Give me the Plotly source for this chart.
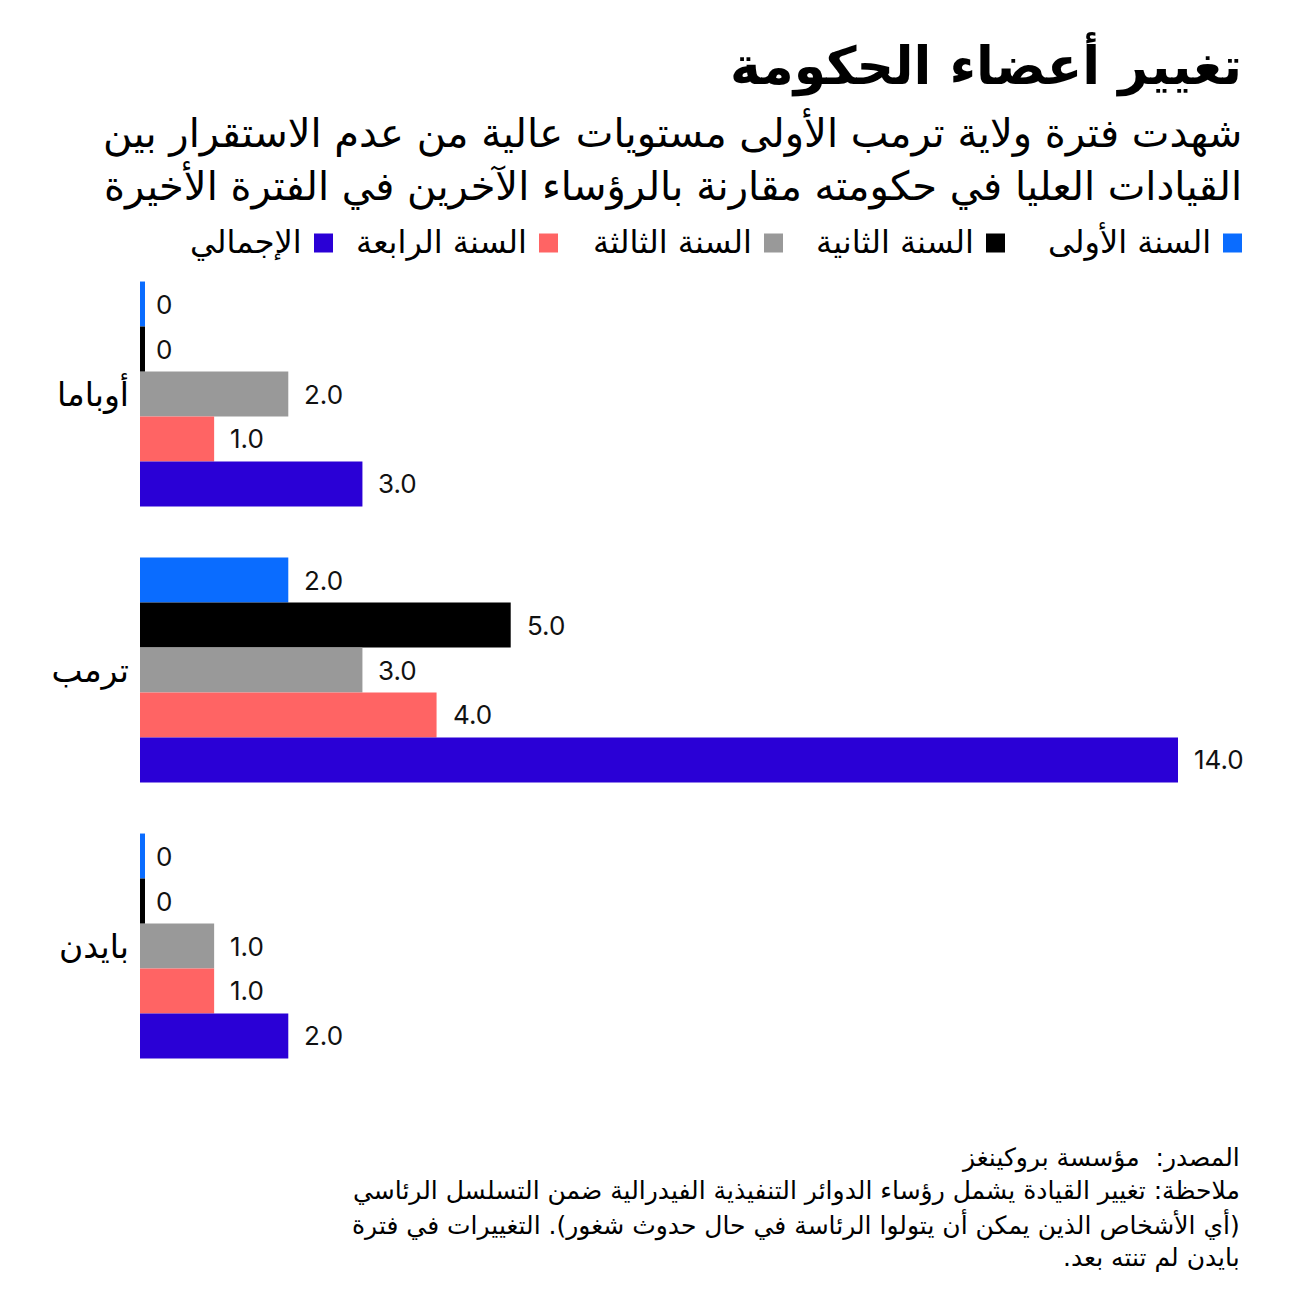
import plotly.graph_objects as go

categories = ["أوباما", "ترمب", "بايدن"]
series_names = ["السنة الأولى", "السنة الثانية", "السنة الثالثة", "السنة الرابعة", "الإجمالي"]
year1 = [0, 2, 0]
year2 = [0, 5, 0]
year3 = [2, 3, 1]
year4 = [1, 4, 1]
total = [3, 14, 2]
colors = ["#0a6cff", "#000000", "#999999", "#ff6464", "#2a00d6"]

title = "تغيير أعضاء الحكومة"
subtitle_lines = [
    "شهدت فترة ولاية ترمب الأولى مستويات عالية من عدم الاستقرار بين",
    "القيادات العليا في حكومته مقارنة بالرؤساء الآخرين في الفترة الأخيرة",
]
footer_lines = [
    "المصدر:  مؤسسة بروكينغز",
    "ملاحظة: تغيير القيادة يشمل رؤساء الدوائر التنفيذية الفيدرالية ضمن التسلسل الرئاسي",
    "(أي الأشخاص الذين يمكن أن يتولوا الرئاسة في حال حدوث شغور). التغييرات في فترة",
    "بايدن لم تنته بعد.",
]

series = [year1, year2, year3, year4, total]

W, H = 1296, 1314
L, R, T, B = 140, 118, 256, 230
PW, PH = W - L - R, H - T - B
AR_FONT = "DejaVu Sans, sans-serif"
NUM_FONT = "Inter, Roboto, sans-serif"
BARGAP = 0.185


def px(x):
    return (x - L) / PW


def py(y):
    return 1 - (y - T) / PH


def rtl(s):
    return "\u202b" + s + "\u202c"


fig = go.Figure()
for name, vals, col in zip(series_names, series, colors):
    fig.add_trace(go.Bar(
        y=categories, x=vals, name=name, orientation="h",
        marker=dict(color=col, line=dict(width=0)),
        showlegend=False, hoverinfo="x+name",
    ))

n = len(series)
bw = (1 - BARGAP) / n
shapes = []
annotations = []
for i, (vals, col) in enumerate(zip(series, colors)):
    for j, v in enumerate(vals):
        yc = j + (i - (n - 1) / 2) * bw
        if v == 0:
            shapes.append(dict(
                type="rect", xref="x", yref="y", xsizemode="pixel", xanchor=0,
                x0=0, x1=5, y0=yc - bw / 2, y1=yc + bw / 2,
                fillcolor=col, line=dict(width=0), layer="above",
            ))
        annotations.append(dict(
            x=v, y=yc, xref="x", yref="y", xanchor="left", yanchor="middle",
            xshift=14, showarrow=False,
            text="0" if v == 0 else f"{v:.1f}",
            font=dict(family=NUM_FONT, size=26, color="#111111"),
        ))

# Title and subtitle
annotations.append(dict(
    x=px(1244), y=py(64), xref="paper", yref="paper", xanchor="right", yanchor="middle",
    showarrow=False, text="<b>" + title + "</b>",
    font=dict(family=AR_FONT, size=52, color="#000000"),
))
for k, line in enumerate(subtitle_lines):
    annotations.append(dict(
        x=px(1244), y=py(132 + k * 53), xref="paper", yref="paper", xanchor="right",
        yanchor="middle", showarrow=False, text=rtl(line),
        font=dict(family=AR_FONT, size=40, color="#000000"),
    ))

# Custom RTL legend
legend_sq_right = [1242, 1005, 783, 558, 333]
SQ = 19
for name, col, xr in zip(series_names, colors, legend_sq_right):
    shapes.append(dict(
        type="rect", xref="paper", yref="paper",
        x0=px(xr - SQ), x1=px(xr), y0=py(243 + SQ / 2), y1=py(243 - SQ / 2),
        fillcolor=col, line=dict(width=0),
    ))
    annotations.append(dict(
        x=px(xr - SQ - 10), y=py(242), xref="paper", yref="paper", xanchor="right",
        yanchor="middle", showarrow=False, text=name,
        font=dict(family=AR_FONT, size=32, color="#000000"),
    ))

# Footer
for k, line in enumerate(footer_lines):
    annotations.append(dict(
        x=px(1242), y=py(1158 + k * 33.4), xref="paper", yref="paper", xanchor="right",
        yanchor="middle", showarrow=False, text=rtl(line),
        font=dict(family=AR_FONT, size=25, color="#000000"),
    ))

fig.update_layout(
    width=W, height=H,
    margin=dict(l=L, r=R, t=T, b=B),
    paper_bgcolor="#ffffff", plot_bgcolor="#ffffff",
    barmode="group", bargap=BARGAP, bargroupgap=0,
    xaxis=dict(range=[0, 14], visible=False, fixedrange=True),
    yaxis=dict(autorange="reversed", showgrid=False, zeroline=False, showline=False,
               ticks="", ticklabelstandoff=10,
               tickfont=dict(family=AR_FONT, size=33, color="#000000")),
    shapes=shapes, annotations=annotations,
    showlegend=False,
)

fig.write_html("out.html")
